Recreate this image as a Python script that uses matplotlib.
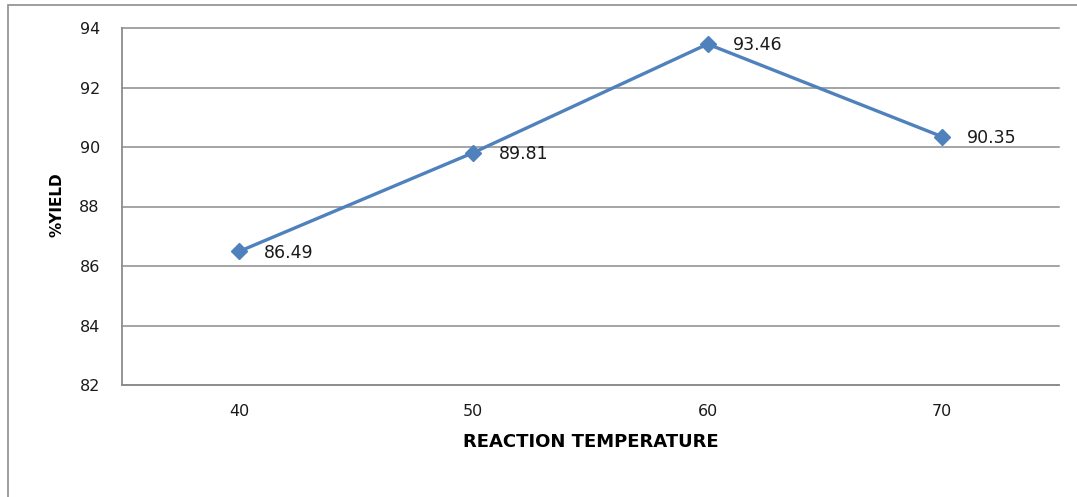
import matplotlib.pyplot as plt
from matplotlib.patches import Rectangle

# data
temps = ["40", "50", "60", "70"]
yields = [86.49, 89.81, 93.46, 90.35]
yticks = [82, 84, 86, 88, 90, 92, 94]

fig = plt.figure(figsize=(10.77, 4.97), dpi=100)
ax = fig.add_axes([122/1077, 1-385/497, (1059-122)/1077, (385-28)/497])

# outer chart border (left and top visible)
fig.patches.append(Rectangle((8/1077, -0.1), 1.2, 1-5/497+0.1, transform=fig.transFigure,
                             fill=False, edgecolor="#8c8c8c", linewidth=1.2))

x = list(range(len(temps)))
ax.plot(x, yields, color="#4F81BD", linewidth=2.4, marker="D", markersize=8)

for xi, yi in zip(x, yields):
    ax.annotate("%.2f" % yi, (xi, yi), xytext=(18, -1), textcoords="offset points",
                va="center", ha="left", fontsize=12.5, color="#1a1a1a")

ax.set_xlim(-0.5, len(temps) - 0.5)
ax.set_ylim(82, 94)
ax.set_xticks(x)
ax.set_xticklabels(temps)
ax.set_yticks(yticks)
ax.tick_params(length=0, labelsize=11.5, colors="#1a1a1a")
ax.tick_params(axis="y", pad=16)
ax.tick_params(axis="x", pad=14)

ax.grid(axis="y", color="#8c8c8c", linewidth=1.1)
for gl in ax.get_ygridlines():
    gl.set_clip_on(False)
ax.set_axisbelow(True)
for s in ["top", "right"]:
    ax.spines[s].set_visible(False)
for s in ["left", "bottom"]:
    ax.spines[s].set_color("#8c8c8c")
    ax.spines[s].set_linewidth(1.3)

ax.set_xlabel("REACTION TEMPERATURE", fontsize=13, fontweight="bold", labelpad=10)
fig.text(57/1077, 1-205/497, "%YIELD", rotation=90, fontsize=11, fontweight="bold",
         ha="center", va="center")

fig.savefig("out.png", dpi=100)
